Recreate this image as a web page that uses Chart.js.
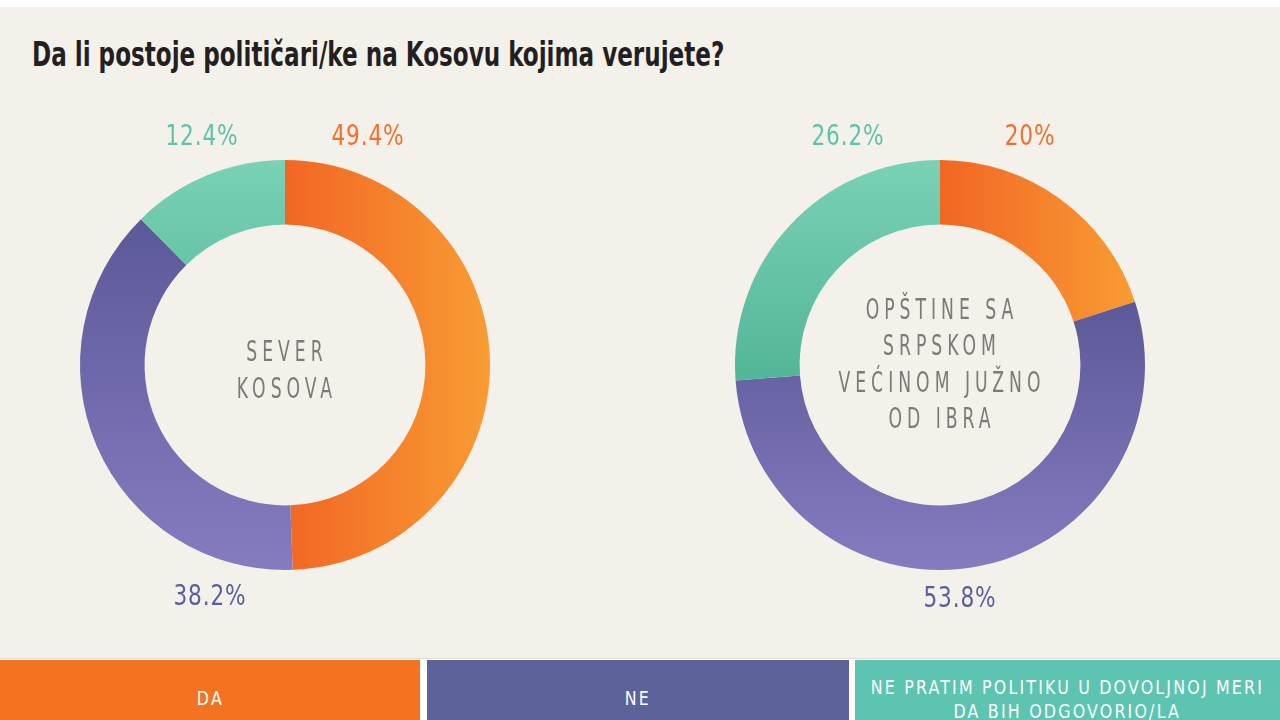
<!DOCTYPE html>
<html>
<head>
<meta charset="utf-8">
<script src="https://cdn.jsdelivr.net/npm/chart.js@4.4.1/dist/chart.umd.min.js"></script>
<style>
  html, body { margin: 0; padding: 0; }
  body { width: 1280px; height: 720px; overflow: hidden; background: #fff; position: relative;
         font-family: "DejaVu Sans Condensed", "Liberation Sans Narrow", sans-serif; }
  #page { position: absolute; left: 0; top: 7px; width: 1280px; height: 713px; background: #f4f1ea; }
  #title { position: absolute; left: 32px; top: 35px; font-size: 34px; line-height: 38px; font-weight: bold;
           color: #231f20; white-space: nowrap; transform-origin: 0 0; }
  .donut { position: absolute; top: 110px; width: 500px; height: 510px; }
  #legend { position: absolute; left: 0; top: 658px; width: 1280px; height: 62px; background: #fff;
            border-top: 1px solid #e2dcd6; }
  .key { position: absolute; top: 1px; height: 61px; color: #fff; text-align: center; box-sizing: border-box;
         font-size: 20px; line-height: 24px; letter-spacing: 2.5px; overflow: hidden; }
  .key span { display: inline-block; transform: scaleX(0.88); transform-origin: 50% 50%; white-space: nowrap;
              margin: 0 -40px; }
</style>
</head>
<body>
<div id="page"></div>
<div id="title">Da li postoje političari/ke na Kosovu kojima verujete?</div>
<div class="donut" style="left:35px"><canvas id="sever"></canvas></div>
<div class="donut" style="left:690px"><canvas id="jug"></canvas></div>
<div id="legend"></div>
<script>
// answers (same order in both rings, clockwise from 12 o'clock)
const categories = ["DA", "NE", "NE PRATIM POLITIKU U DOVOLJNOJ MERI DA BIH ODGOVORIO/LA"];
const legendLines = [["DA"], ["NE"], ["NE PRATIM POLITIKU U DOVOLJNOJ MERI", "DA BIH ODGOVORIO/LA"]];

// share of respondents, %
const severValues = [49.4, 38.2, 12.4];
const jugValues = [20, 53.8, 26.2];

// ring captions
const severCaption = ["SEVER", "KOSOVA"];
const jugCaption = ["OPŠTINE SA", "SRPSKOM", "VEĆINOM JUŽNO", "OD IBRA"];

const flatColors = ["#f47321", "#5e629b", "#5cc4b0"];
const textColors = ["#f4702a", "#5a5ea0", "#5bc3ab"];
const FONT = "'DejaVu Sans Condensed', 'Liberation Sans Narrow', sans-serif";

// squeeze the title to the width of the original
const titleEl = document.getElementById("title");
titleEl.style.transform = "scaleX(" + (692 / titleEl.offsetWidth) + ")";

// bounding box of one ring segment, so each gets its own gradient
function segBox(values, i, cx, cy, r0, r1) {
  const total = values.reduce((a, b) => a + b, 0);
  let before = 0;
  for (let k = 0; k < i; k++) before += values[k];
  const a0 = -Math.PI / 2 + before / total * 2 * Math.PI;
  const a1 = a0 + values[i] / total * 2 * Math.PI;
  let box = { x0: Infinity, y0: Infinity, x1: -Infinity, y1: -Infinity };
  for (let s = 0; s <= 60; s++) {
    const a = a0 + (a1 - a0) * s / 60;
    [r0, r1].forEach(r => {
      const x = cx + Math.cos(a) * r, y = cy + Math.sin(a) * r;
      box.x0 = Math.min(box.x0, x); box.x1 = Math.max(box.x1, x);
      box.y0 = Math.min(box.y0, y); box.y1 = Math.max(box.y1, y);
    });
  }
  return box;
}

function segColor(context) {
  const chart = context.chart;
  const area = chart.chartArea;
  const i = context.dataIndex;
  if (!area) return flatColors[i];
  const c = chart.ctx;
  const cx = (area.left + area.right) / 2, cy = (area.top + area.bottom) / 2;
  const r = Math.min(area.width, area.height) / 2;
  const values = chart.data.datasets[0].data;
  const b = segBox(values, i, cx, cy, r * 0.685, r);
  let g;
  if (i === 0) {
    g = c.createLinearGradient(b.x0, 0, b.x1, 0);
    g.addColorStop(0, "#f26624");
    g.addColorStop(1, "#f89c33");
  } else if (i === 1) {
    g = c.createLinearGradient(0, b.y0, 0, b.y1);
    g.addColorStop(0, "#5c5999");
    g.addColorStop(1, "#857cbf");
  } else {
    g = c.createLinearGradient(0, area.top, 0, cy + 20);
    g.addColorStop(0, "#7ad1b6");
    g.addColorStop(1, "#52b598");
  }
  return g;
}

// percentages around the ring and the caption in the hole
const ringText = {
  id: "ringText",
  afterDraw(chart, args, opts) {
    const arc = chart.getDatasetMeta(0).data[0];
    const cx = arc.x, cy = arc.y;
    const c = chart.ctx;
    const values = chart.data.datasets[0].data;
    c.save();
    c.textAlign = "center";
    c.textBaseline = "middle";
    c.font = "28px " + FONT;
    c.letterSpacing = "1px";
    values.forEach((v, i) => {
      c.save();
      c.fillStyle = textColors[i];
      c.translate(cx + opts.spots[i][0], cy + opts.spots[i][1] + 2);
      c.scale(0.86, 1);
      c.fillText(v + "%", 0, 0);
      c.restore();
    });
    c.fillStyle = "#7b7a78";
    c.font = "29px " + FONT;
    const sx = 0.66;
    c.letterSpacing = (5 / sx) + "px";
    const lh = 36.5;
    const lines = opts.caption;
    lines.forEach((t, k) => {
      const y = cy + opts.captionShift + (k - (lines.length - 1) / 2) * lh + 1;
      c.save();
      c.translate(cx + 2, y);
      c.scale(sx, 1);
      c.fillText(t, 0, 0);
      c.restore();
    });
    c.restore();
  }
};

function makeRing(id, values, caption, spots, captionShift) {
  return new Chart(document.getElementById(id), {
    type: "doughnut",
    data: {
      labels: categories,
      datasets: [{
        data: values,
        backgroundColor: segColor,
        borderWidth: 0,
        hoverOffset: 0
      }]
    },
    options: {
      responsive: true,
      maintainAspectRatio: false,
      animation: false,
      events: [],
      cutout: "68.5%",
      layout: { padding: { top: 50, bottom: 50, left: 45, right: 45 } },
      plugins: {
        legend: { display: false },
        tooltip: { enabled: false },
        ringText: { spots, caption, captionShift }
      }
    },
    plugins: [ringText]
  });
}

makeRing("sever", severValues, severCaption, [[83, -229], [-75, 231], [-83, -229]], 6);
makeRing("jug", jugValues, jugCaption, [[90, -229], [20, 233], [-92, -229]], 0);

// legend strip along the bottom
const keySpans = [[0, 420], [427, 849], [855, 1280]];
const legend = document.getElementById("legend");
categories.forEach((cat, i) => {
  const d = document.createElement("div");
  d.className = "key";
  d.style.left = keySpans[i][0] + "px";
  d.style.width = (keySpans[i][1] - keySpans[i][0]) + "px";
  d.style.background = flatColors[i];
  d.style.paddingTop = legendLines[i].length > 1 ? "15px" : "26px";
  d.innerHTML = legendLines[i].map(t => "<span>" + t + "</span>").join("<br>");
  legend.appendChild(d);
});
</script>
</body>
</html>
